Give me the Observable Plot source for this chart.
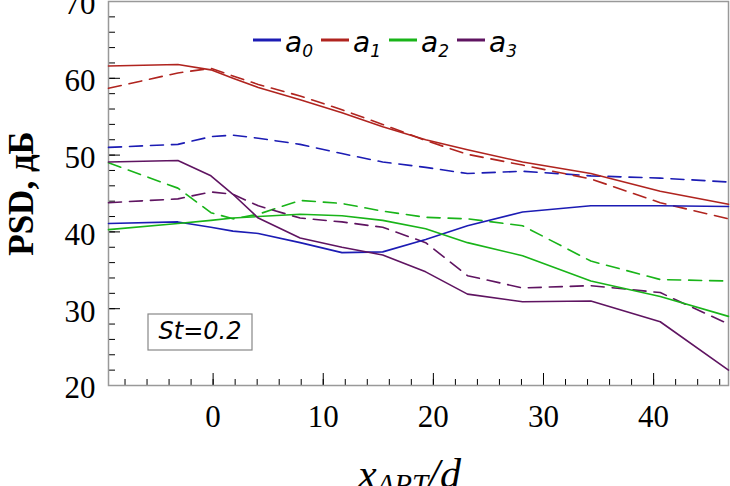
<!DOCTYPE html>
<html>
<head>
<meta charset="utf-8">
<script src="https://cdn.jsdelivr.net/npm/d3@7"></script>
<script src="https://cdn.jsdelivr.net/npm/@observablehq/plot@0.6"></script>
<style>
  body { margin: 0; background: #fff; overflow: hidden; }
  #chart svg { display: block; }
</style>
</head>
<body>
<div id="chart"></div>
<script>
// positions along the jet, x/d
const xPos = [-9.5, -3.2, -0.2, 1.8, 4.1, 7.9, 11.7, 15.4, 19.3, 23.1, 28.1, 34.3, 40.6, 46.8];

const series = ["a0", "a1", "a2", "a3"];
const colors = ["#1c1cb4", "#b0241f", "#19b419", "#5f1461"];

// solid lines
const a0Solid = [41.1, 41.3, 40.6, 40.1, 39.8, 38.6, 37.3, 37.4, 39.0, 40.8, 42.6, 43.4, 43.4, 43.3];
const a1Solid = [61.6, 61.8, 61.1, 60.0, 58.8, 57.2, 55.5, 53.7, 52.0, 50.7, 49.1, 47.6, 45.3, 43.6];
const a2Solid = [40.3, 41.1, 41.5, 41.8, 42.0, 42.3, 42.1, 41.5, 40.4, 38.6, 36.9, 33.6, 31.6, 29.0];
const a3Solid = [49.1, 49.3, 47.3, 44.9, 41.8, 39.2, 38.0, 37.0, 34.8, 31.9, 30.9, 31.0, 28.3, 22.0];

// dashed lines
const a0Dashed = [51.0, 51.4, 52.4, 52.6, 52.2, 51.4, 50.2, 49.1, 48.4, 47.6, 47.9, 47.3, 47.0, 46.5];
const a1Dashed = [58.7, 60.7, 61.3, 60.3, 59.2, 57.7, 55.9, 54.0, 51.9, 50.1, 48.7, 46.9, 43.8, 41.7];
const a2Dashed = [49.0, 45.7, 42.5, 41.7, 42.3, 44.1, 43.7, 42.7, 41.9, 41.7, 40.8, 36.2, 33.8, 33.6];
const a3Dashed = [43.8, 44.3, 45.2, 44.9, 43.4, 41.8, 41.3, 40.6, 38.6, 34.3, 32.7, 33.0, 32.1, 28.0];

const xMajor = [0, 10, 20, 30, 40];
const yMajor = [20, 30, 40, 50, 60, 70];

function toRows(list) {
  return list.flatMap((vals, i) => vals.map((v, j) => ({s: series[i], x: xPos[j], y: v})));
}
const solidRows = toRows([a0Solid, a1Solid, a2Solid, a3Solid]);
const dashedRows = toRows([a0Dashed, a1Dashed, a2Dashed, a3Dashed]);

let chart = Plot.plot({
  width: 730,
  height: 486,
  marginLeft: 108,
  marginRight: 2,
  marginTop: 1,
  marginBottom: 101,
  style: {fontFamily: "Liberation Serif", fontSize: "31px", color: "#000", background: "#fff"},
  x: {domain: [-9.5, 46.8]},
  y: {domain: [20, 70]},
  color: {domain: series, range: colors},
  marks: [
    Plot.axisY(d3.range(20, 71, 2), {tickSize: -7, text: null, label: null}),
    Plot.axisY(yMajor, {tickSize: -12, text: null, label: null}),
    Plot.axisY(yMajor, {tickSize: 0, tickPadding: 13, dy: 3, label: null}),
    Plot.axisX(d3.range(-8, 47, 2), {tickSize: -6, text: null, label: null}),
    Plot.axisX(xMajor, {tickSize: -12, text: null, label: null}),
    Plot.axisX(xMajor, {tickSize: 0, tickPadding: 19, label: null}),
    Plot.frame({stroke: "#999", strokeWidth: 1.5}),
    Plot.line(dashedRows, {x: "x", y: "y", z: "s", stroke: "s", strokeWidth: 1.6, strokeDasharray: "13,8"}),
    Plot.line(solidRows, {x: "x", y: "y", z: "s", stroke: "s", strokeWidth: 1.6}),
    Plot.text(["PSD, дБ"], {
      text: d => d, frameAnchor: "left", dx: -87, rotate: -90, textAnchor: "middle",
      fontSize: 35, fontWeight: "bold", fontFamily: "Liberation Serif", lineAnchor: "middle"
    })
  ]
});

const svg = d3.select(chart);

// legend
const leg = svg.append("g").attr("font-family", "DejaVu Sans").attr("font-style", "italic")
  .attr("text-anchor", "start");
series.forEach((name, i) => {
  const x0 = 253 + i * 68;
  leg.append("line").attr("x1", x0).attr("x2", x0 + 28).attr("y1", 40).attr("y2", 40)
    .attr("stroke", colors[i]).attr("stroke-width", 3);
  const t = leg.append("text").attr("x", x0 + 32).attr("y", 52).attr("font-size", 28).attr("fill", "#000");
  t.append("tspan").text("a");
  t.append("tspan").attr("font-size", 17).attr("dy", 5).text(name.slice(1));
});

// St box
svg.append("rect").attr("x", 148).attr("y", 314).attr("width", 104).attr("height", 36)
  .attr("fill", "#fff").attr("stroke", "#888").attr("stroke-width", 1.2);
svg.append("text").attr("x", 200).attr("y", 339).attr("text-anchor", "middle")
  .attr("font-family", "DejaVu Sans").attr("font-style", "italic").attr("font-size", 24)
  .text("St=0.2");

// x label
const xl = svg.append("text").attr("x", 358).attr("y", 488).attr("text-anchor", "start")
  .attr("font-family", "Liberation Serif").attr("font-style", "italic").attr("font-size", 42);
xl.append("tspan").text("x");
xl.append("tspan").attr("font-size", 29).attr("dy", 6).text("АРТ");
xl.append("tspan").attr("dy", -6).text("/d");

d3.select('#chart').append(() => chart);
</script>
</body>
</html>
